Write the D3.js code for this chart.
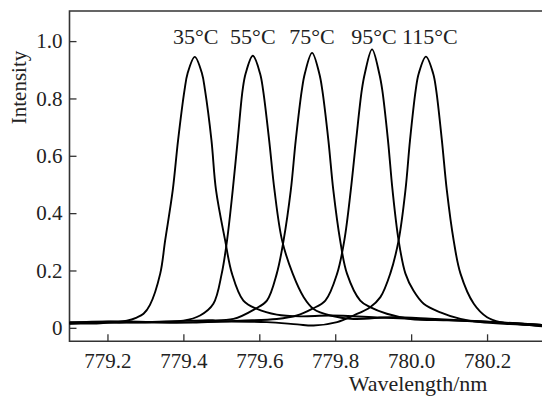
<!DOCTYPE html>
<html>
<head>
<meta charset="utf-8">
<script src="https://cdn.jsdelivr.net/npm/d3@7"></script>
<style>
  html, body { margin: 0; padding: 0; background: #fff; }
  svg { display: block; font-family: "Liberation Serif", "DejaVu Serif", serif; }
</style>
</head>
<body>
<svg></svg>
<script>
// temperatures / labels
const temps = ["35°C", "55°C", "75°C", "95°C", "115°C"];
const peakWl = [779.430, 779.583, 779.739, 779.897, 780.039];

// spectra (wavelength nm, intensity)
const wl35 = [779.10, 779.181, 779.251, 779.277, 779.295, 779.312, 779.339, 779.352, 779.372, 779.386, 779.403, 779.411, 779.430, 779.449, 779.457, 779.474, 779.486, 779.510, 779.528, 779.558, 779.594, 779.646, 779.708, 779.787, 779.919, 780.051, 780.183, 780.346];
const in35 = [0.015, 0.016, 0.025, 0.036, 0.049, 0.080, 0.189, 0.305, 0.480, 0.654, 0.829, 0.887, 0.945, 0.887, 0.829, 0.654, 0.480, 0.305, 0.189, 0.095, 0.066, 0.046, 0.040, 0.043, 0.036, 0.029, 0.022, 0.010];

const wl55 = [779.10, 779.20, 779.30, 779.40, 779.444, 779.479, 779.501, 779.515, 779.530, 779.543, 779.556, 779.564, 779.583, 779.602, 779.610, 779.626, 779.640, 779.660, 779.688, 779.717, 779.743, 779.787, 779.848, 779.95, 780.05, 780.15, 780.25, 780.346];
const in55 = [0.018, 0.022, 0.020, 0.025, 0.043, 0.084, 0.189, 0.305, 0.480, 0.654, 0.829, 0.887, 0.949, 0.887, 0.829, 0.654, 0.480, 0.305, 0.189, 0.107, 0.066, 0.043, 0.031, 0.037, 0.032, 0.025, 0.018, 0.010];

const wl75 = [779.10, 779.25, 779.35, 779.45, 779.532, 779.589, 779.620, 779.646, 779.664, 779.683, 779.696, 779.712, 779.720, 779.739, 779.758, 779.766, 779.782, 779.795, 779.813, 779.831, 779.866, 779.892, 779.936, 779.998, 780.10, 780.20, 780.346];
const in75 = [0.020, 0.018, 0.022, 0.026, 0.031, 0.066, 0.095, 0.189, 0.305, 0.480, 0.654, 0.829, 0.887, 0.959, 0.887, 0.829, 0.654, 0.480, 0.305, 0.189, 0.095, 0.072, 0.049, 0.031, 0.026, 0.020, 0.010];

const wl95 = [779.10, 779.25, 779.40, 779.55, 779.646, 779.699, 779.739, 779.774, 779.805, 779.824, 779.841, 779.855, 779.870, 779.878, 779.897, 779.916, 779.924, 779.939, 779.951, 779.967, 779.985, 780.006, 780.033, 780.077, 780.130, 780.182, 780.26, 780.346];
const in95 = [0.017, 0.022, 0.018, 0.025, 0.031, 0.043, 0.066, 0.095, 0.189, 0.305, 0.480, 0.654, 0.829, 0.887, 0.971, 0.887, 0.829, 0.654, 0.480, 0.305, 0.189, 0.130, 0.084, 0.054, 0.031, 0.020, 0.013, 0.008];

const wl115 = [779.10, 779.20, 779.35, 779.50, 779.62, 779.70, 779.743, 779.805, 779.848, 779.892, 779.919, 779.945, 779.967, 779.985, 779.997, 780.012, 780.020, 780.039, 780.058, 780.066, 780.081, 780.094, 780.112, 780.130, 780.165, 780.200, 780.235, 780.288, 780.346];
const in115 = [0.014, 0.020, 0.018, 0.022, 0.020, 0.012, 0.008, 0.020, 0.043, 0.072, 0.107, 0.189, 0.305, 0.480, 0.654, 0.829, 0.887, 0.946, 0.887, 0.829, 0.654, 0.480, 0.305, 0.189, 0.084, 0.037, 0.020, 0.012, 0.005];

const xTicks = [779.2, 779.4, 779.6, 779.8, 780.0, 780.2];
const yTicks = [0, 0.2, 0.4, 0.6, 0.8, 1.0];

const series = [
  [wl35, in35], [wl55, in55], [wl75, in75], [wl95, in95], [wl115, in115]
].map(([w, v]) => w.map((d, i) => [d, v[i]]));

const width = 542, height = 396;
const margin = { top: 11, right: -2, bottom: 55, left: 69.5 };
const svg = d3.select("svg").attr("width", width).attr("height", height);

const x = d3.scaleLinear()
  .domain([779.1, 780.35])
  .range([margin.left, width - margin.right]);
const y = d3.scaleLinear()
  .domain([-0.047, 1.105])
  .range([height - margin.bottom + 0.3, margin.top]);

const axisColor = "#333";
const bottomY = y.range()[0];

// x axis, ticks inside
const xAxis = svg.append("g")
  .attr("transform", `translate(0,${bottomY})`)
  .call(d3.axisBottom(x).tickValues(xTicks).tickFormat(d3.format(".1f"))
    .tickSizeInner(-7).tickSizeOuter(0))
  .attr("font-family", null);
xAxis.select(".domain").remove();
xAxis.selectAll(".tick line").attr("stroke", axisColor).attr("stroke-width", 1.3);
xAxis.selectAll(".tick text")
  .attr("y", 26.5).attr("dy", null)
  .attr("fill", "#222")
  .style("font-size", "21px");

// y axis
const yAxis = svg.append("g")
  .attr("transform", `translate(${margin.left},0)`)
  .call(d3.axisLeft(y).tickValues(yTicks)
    .tickFormat(d => d === 0 ? "0" : d3.format(".1f")(d))
    .tickSizeInner(-7).tickSizeOuter(0).tickPadding(7))
  .attr("font-family", null);
yAxis.select(".domain").remove();
yAxis.selectAll(".tick line").attr("stroke", axisColor).attr("stroke-width", 1.3);
yAxis.selectAll(".tick text")
  .attr("fill", "#222")
  .style("font-size", "21px");

// frame: left, top, bottom
svg.append("path")
  .attr("d", `M${width + 2},${margin.top}H${margin.left}V${bottomY}H${width + 2}`)
  .attr("fill", "none")
  .attr("stroke", axisColor)
  .attr("stroke-width", 1.6);

// curves
const line = d3.line()
  .x(d => x(d[0]))
  .y(d => y(d[1]))
  .curve(d3.curveCatmullRom.alpha(0.5));

svg.append("g")
  .selectAll("path")
  .data(series)
  .join("path")
  .attr("d", line)
  .attr("fill", "none")
  .attr("stroke", "#000")
  .attr("stroke-width", 1.9)
  .attr("stroke-linejoin", "round");

// temperature labels
const labelNudge = [1, 0, 0, 2, 4];
svg.append("g")
  .selectAll("text")
  .data(temps)
  .join("text")
  .attr("x", (d, i) => x(peakWl[i]) + labelNudge[i])
  .attr("y", 44)
  .attr("text-anchor", "middle")
  .attr("fill", "#222")
  .style("font-size", "22px")
  .text(d => d);

// axis titles
svg.append("text")
  .attr("transform", "translate(26,87.5) rotate(-90)")
  .attr("text-anchor", "middle")
  .attr("fill", "#222")
  .style("font-size", "21px")
  .text("Intensity");

svg.append("text")
  .attr("x", 418)
  .attr("y", 391)
  .attr("text-anchor", "middle")
  .attr("fill", "#222")
  .style("font-size", "22px")
  .text("Wavelength/nm");
</script>
</body>
</html>
